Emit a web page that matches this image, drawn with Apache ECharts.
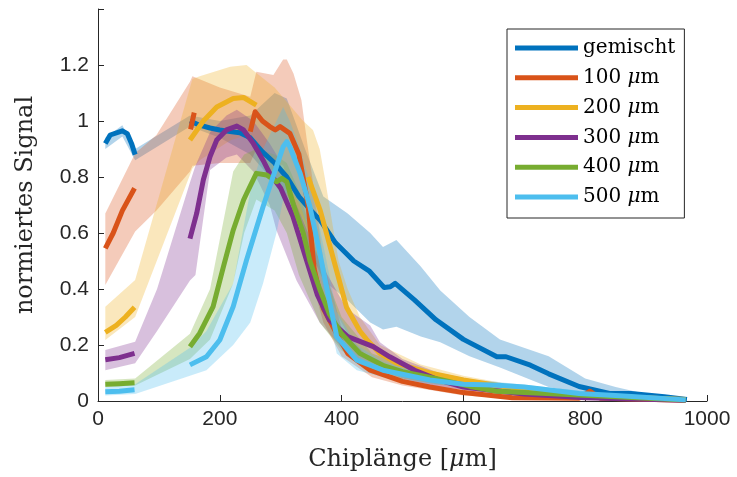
<!DOCTYPE html>
<html><head><meta charset="utf-8">
<script src="https://cdn.jsdelivr.net/npm/echarts@6/dist/echarts.min.js"></script>
<style>html,body{margin:0;padding:0;background:#fff}#c{width:737px;height:477px}</style>
</head><body><div id="c"></div>
<script>
// ---- tick labels / axes ----
const xTicks = [0, 200, 400, 600, 800, 1000];
const yTicks = [0, 0.2, 0.4, 0.6, 0.8, 1, 1.2];
const names = ['gemischt', '100 μm', '200 μm', '300 μm', '400 μm', '500 μm'];

// ---- gemischt ----
const gX = [12,20,40,48,55,61,100,151,167,184,200,217,233,250,270,290,310,330,350,365,390,420,445,470,480,488,520,555,600,655,670,710,740,790,840,875,930,967];
const gY = [0.92,0.95,0.965,0.955,0.92,0.88,null,1.0,0.985,0.975,0.968,0.962,0.958,0.94,0.89,0.85,0.8,0.73,0.68,0.645,0.565,0.5,0.465,0.405,0.408,0.42,0.36,0.29,0.22,0.158,0.158,0.128,0.097,0.052,0.027,0.027,0.015,0.005];
const gBX = [12,40,61,151,200,250,290,310,340,370,410,447,468,490,530,562,610,660,740,800,850,900,967];
const gHi = [0.94,0.985,0.9,1.02,1.0,1.02,1.1,1.08,0.9,0.73,0.67,0.6,0.55,0.575,0.48,0.395,0.3,0.22,0.16,0.08,0.05,0.025,0.008];
const gLo = [0.9,0.945,0.86,0.98,0.94,0.88,0.78,0.72,0.58,0.43,0.36,0.28,0.255,0.265,0.23,0.21,0.16,0.12,0.05,0.025,0.012,0.006,0.002];

// ---- 100 um ----
const aX = [12,25,40,60,100,152,158,200,250,258,270,282,291,299,315,330,345,355,370,392,410,447,500,545,600,680,790,808,825,965];
const aY = [0.545,0.6,0.68,0.76,null,0.97,1.03,null,0.962,1.033,1.0,0.98,0.968,0.98,0.956,0.88,0.7,0.47,0.33,0.24,0.17,0.11,0.07,0.05,0.03,0.012,0.01,0.035,0.01,0.003];
const aBX = [12,61,96,151,155,200,250,260,288,304,310,321,334,343,355,370,400,450,500,600,700,800,965];
const aHi = [0.67,0.885,0.95,1.14,1.16,1.12,1.087,1.176,1.164,1.22,1.22,1.17,1.075,0.93,0.75,0.5,0.26,0.14,0.09,0.045,0.02,0.015,0.005];
const aLo = [0.414,0.605,0.68,0.82,0.84,0.85,0.85,0.9,0.86,0.84,0.8,0.7,0.6,0.5,0.4,0.28,0.16,0.085,0.055,0.02,0.005,0.003,0];

// ---- 200 um ----
const bX = [12,30,45,60,100,151,173,195,222,239,260,300,345,365,380,395,408,430,441,463,490,545,600,700,800,965];
const bY = [0.245,0.27,0.3,0.335,null,0.932,1.0,1.05,1.08,1.084,1.057,null,0.8,0.68,0.56,0.44,0.335,0.25,0.22,0.17,0.135,0.1,0.075,0.04,0.02,0.005];
const bBX = [12,61,155,167,217,244,255,290,337,353,364,373,395,410,430,463,530,600,700,800,965];
const bHi = [0.337,0.432,1.15,1.16,1.194,1.2,1.18,1.12,1.0,0.968,0.9,0.79,0.5,0.4,0.3,0.2,0.13,0.09,0.05,0.025,0.005];
const bLo = [0.218,0.3,0.83,0.86,0.93,0.95,0.92,0.8,0.65,0.57,0.48,0.42,0.3,0.24,0.18,0.14,0.08,0.06,0.03,0.012,0];

// ---- 300 um ----
const cX = [12,35,60,100,151,162,173,184,195,211,228,239,255,271,282,300,320,340,360,380,410,452,479,520,560,600,700,800,965];
const cY = [0.147,0.155,0.17,null,0.58,0.67,0.79,0.873,0.932,0.968,0.982,0.968,0.92,0.86,0.813,0.76,0.66,0.52,0.38,0.29,0.23,0.194,0.158,0.11,0.075,0.05,0.025,0.012,0.003];
const cBX = [12,61,97,151,160,184,211,228,255,282,293,326,364,408,447,463,500,560,700,965];
const cHi = [0.182,0.212,0.4,0.78,0.84,0.96,1.02,1.04,1.0,0.92,0.88,0.7,0.5,0.33,0.27,0.21,0.15,0.1,0.04,0.005];
const cLo = [0.11,0.135,0.25,0.43,0.45,0.825,0.87,0.88,0.82,0.7,0.61,0.43,0.28,0.17,0.13,0.11,0.08,0.05,0.015,0];

// ---- 400 um ----
const dX = [12,35,60,100,151,167,189,206,222,239,244,260,277,293,302,310,321,337,348,364,380,400,430,470,500,556,611,655,700,780,850,965];
const dY = [0.06,0.062,0.065,null,0.194,0.242,0.337,0.48,0.61,0.718,0.741,0.813,0.807,0.783,0.795,0.783,0.7,0.6,0.5,0.4,0.31,0.24,0.17,0.125,0.105,0.08,0.052,0.035,0.03,0.022,0.015,0.004];
const dBX = [12,61,151,184,222,240,260,290,310,330,364,400,450,500,556,650,800,965];
const dHi = [0.075,0.08,0.24,0.4,0.82,0.88,0.9,0.88,0.85,0.75,0.5,0.3,0.17,0.13,0.1,0.06,0.03,0.005];
const dLo = [0.05,0.055,0.15,0.22,0.42,0.6,0.72,0.68,0.6,0.45,0.28,0.18,0.1,0.08,0.06,0.035,0.015,0];

// ---- 500 um ----
const eX = [12,35,60,100,151,178,200,222,244,271,293,304,310,315,332,348,364,375,392,425,468,545,600,650,700,790,850,965];
const eY = [0.033,0.035,0.04,null,0.129,0.158,0.218,0.337,0.504,0.694,0.837,0.908,0.926,0.908,0.813,0.694,0.53,0.41,0.23,0.146,0.11,0.075,0.06,0.057,0.05,0.027,0.02,0.004];
const eBX = [12,61,151,178,222,250,271,293,304,315,332,348,364,392,425,468,545,650,800,965];
const eHi = [0.05,0.06,0.19,0.25,0.42,0.75,0.9,1.0,1.05,1.0,0.9,0.78,0.62,0.32,0.2,0.14,0.09,0.07,0.035,0.008];
const eLo = [0.02,0.025,0.09,0.11,0.2,0.28,0.42,0.6,0.72,0.76,0.7,0.6,0.45,0.17,0.11,0.085,0.06,0.045,0.02,0];

const colors = ['#0072BD','#D95319','#EDB120','#7E2F8E','#77AC30','#4DBEEE'];
const lines = [[gX,gY],[aX,aY],[bX,bY],[cX,cY],[dX,dY],[eX,eY]];
const bands = [[gBX,gLo,gHi],[aBX,aLo,aHi],[bBX,bLo,bHi],[cBX,cLo,cHi],[dBX,dLo,dHi],[eBX,eLo,eHi]];

function rgba(hex, a){const n=parseInt(hex.slice(1),16);return `rgba(${n>>16},${(n>>8)&255},${n&255},${a})`;}

const series = [];
lines.forEach((ln, i) => {
  series.push({
    name: names[i], type: 'line', showSymbol: false, symbol: 'none',
    data: ln[0].map((x, k) => [x, ln[1][k] === null ? '-' : ln[1][k]]),
    lineStyle: { color: colors[i], width: 5, join: 'round' },
    itemStyle: { color: colors[i] },
    emphasis: { disabled: true }, silent: true
  });
  const [bx, lo, hi] = bands[i];
  series.push({
    type: 'custom', silent: true,
    data: [[bx[0], lo[0]]],
    renderItem: function (params, api) {
      const up = bx.map((x, k) => api.coord([x, hi[k]]));
      const dn = bx.map((x, k) => api.coord([x, lo[k]])).reverse();
      return { type: 'polygon', shape: { points: up.concat(dn) }, style: { fill: rgba(colors[i], 0.3) } };
    }
  });
});

const chart = echarts.init(document.getElementById('c'), null, { renderer: 'canvas' });
chart.setOption({
  animation: false,
  backgroundColor: '#fff',
  grid: { left: 98, right: 30, top: 9, bottom: 76, containLabel: false },
  xAxis: {
    type: 'value', min: xTicks[0], max: xTicks[xTicks.length-1], interval: 200,
    name: 'Chiplänge [{i|μ}m]', nameLocation: 'middle', nameGap: 47,
    nameTextStyle: { fontFamily: 'DejaVu Serif', fontSize: 24, color: '#262626',
      rich: { i: { fontFamily: 'DejaVu Serif', fontStyle: 'italic', fontSize: 24, color: '#262626' } } },
    axisLine: { lineStyle: { color: '#262626', width: 1 } },
    axisTick: { inside: true, length: 6, lineStyle: { color: '#262626' } },
    axisLabel: { fontFamily: 'Liberation Sans', fontSize: 21, color: '#262626', margin: 8,
      formatter: v => String(v) },
    splitLine: { show: false }
  },
  yAxis: {
    type: 'value', min: 0, max: 1.4, interval: 0.2,
    name: 'normiertes Signal', nameLocation: 'middle', nameGap: 60,
    nameTextStyle: { fontFamily: 'DejaVu Serif', fontSize: 24, color: '#262626' },
    axisLine: { show: true, lineStyle: { color: '#262626', width: 1 } },
    axisTick: { show: true, inside: true, length: 6, lineStyle: { color: '#262626' } },
    axisLabel: { fontFamily: 'Liberation Sans', fontSize: 21, color: '#262626', margin: 9,
      formatter: v => (yTicks.some(t => Math.abs(t - v) < 1e-9) ? String(+v.toFixed(1)) : '') },
    splitLine: { show: false }
  },
  legend: {
    data: names, orient: 'vertical', left: 507, top: 29,
    icon: 'rect', itemWidth: 63, itemHeight: 5, itemGap: 7.8,
    padding: [8, 9, 10, 8],
    backgroundColor: '#fff', borderColor: '#262626', borderWidth: 1,
    selectedMode: false,
    formatter: n => n.replace('μ', '{i|μ}'),
    textStyle: { fontFamily: 'DejaVu Serif', fontSize: 20, color: '#000', lineHeight: 22,
      rich: { i: { fontFamily: 'DejaVu Serif', fontStyle: 'italic', fontSize: 20, lineHeight: 22 } } }
  },
  series: series
});
</script></body></html>
